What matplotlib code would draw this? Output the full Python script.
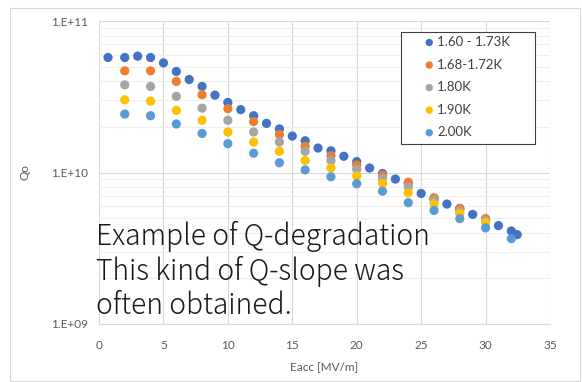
import numpy as np
import matplotlib.pyplot as plt
from matplotlib.ticker import FixedLocator, LogLocator, NullFormatter

# Eacc [MV/m] and Qo for each bath temperature
eacc_a = [0.7, 2, 3, 4, 5, 6, 7, 8, 9, 10, 11, 12, 13, 14, 15, 16, 17, 18, 19, 20,
          21, 22, 23, 24, 25, 26, 27, 28, 29, 30, 31, 32, 32.45]
q_a = [5.74e10, 5.74e10, 5.86e10, 5.74e10, 5.29e10, 4.64e10, 4.11e10, 3.70e10, 3.24e10,
       2.90e10, 2.60e10, 2.37e10, 2.11e10, 1.94e10, 1.74e10, 1.62e10, 1.45e10, 1.39e10,
       1.28e10, 1.18e10, 1.07e10, 9.85e9, 9.05e9, 8.47e9, 7.27e9, 6.71e9, 6.19e9, 5.80e9,
       5.29e9, 4.91e9, 4.46e9, 4.11e9, 3.89e9]

eacc_even = [2, 4, 6, 8, 10, 12, 14, 16, 18, 20, 22, 24, 26, 28, 30]
q_b = [4.69e10, 4.69e10, 3.99e10, 3.26e10, 2.64e10, 2.17e10, 1.78e10, 1.49e10, 1.29e10,
       1.12e10, 9.6e9, 8.63e9, 6.81e9, 5.77e9, 4.96e9]
q_c = [3.79e10, 3.70e10, 3.18e10, 2.66e10, 2.21e10, 1.85e10, 1.59e10, 1.38e10, 1.20e10,
       1.05e10, 9.13e9, 8.05e9, 6.57e9, 5.56e9, 4.83e9]
q_d = [3.02e10, 2.96e10, 2.57e10, 2.21e10, 1.85e10, 1.59e10, 1.38e10, 1.20e10, 1.07e10,
       9.5e9, 8.47e9, 7.35e9, 6.22e9, 5.37e9, 4.67e9]

eacc_e = [2, 4, 6, 8, 10, 12, 14, 16, 18, 20, 22, 24, 26, 28, 30, 32]
q_e = [2.43e10, 2.37e10, 2.09e10, 1.81e10, 1.55e10, 1.34e10, 1.16e10, 1.04e10, 9.37e9,
       8.43e9, 7.53e9, 6.32e9, 5.62e9, 4.96e9, 4.31e9, 3.66e9]

labels = ['1.60 - 1.73K', '1.68-1.72K', '1.80K', '1.90K', '2.00K']
colors = ['#4472C4', '#ED7D31', '#A5A5A5', '#FFC000', '#5B9BD5']

plt.rcParams['font.family'] = ['Lato', 'DejaVu Sans']

fig = plt.figure(figsize=(5.82, 3.82), dpi=100)
ax = fig.add_axes([99 / 582, 1 - 324 / 382, 451 / 582, 303 / 382])

series = [(eacc_a, q_a), (eacc_even, q_b), (eacc_even, q_c), (eacc_even, q_d), (eacc_e, q_e)]
for (xs, ys), lab, col in zip(series, labels, colors):
    ax.scatter(xs, ys, s=44, color=col, label=lab, edgecolors='none', zorder=3)

ax.set_yscale('log')
ax.set_xlim(0, 35)
ax.set_ylim(1e9, 1e11)
ax.set_xticks(np.arange(0, 36, 5))
ax.yaxis.set_major_locator(FixedLocator([1e9, 1e10, 1e11]))
ax.set_yticklabels(['1.E+09', '1.E+10', '1.E+11'])
ax.yaxis.set_minor_locator(LogLocator(base=10, subs=np.arange(2, 10)))
ax.yaxis.set_minor_formatter(NullFormatter())

for s in ax.spines.values():
    s.set_visible(False)
ax.spines['bottom'].set_visible(True)
ax.spines['bottom'].set_color('#D9D9D9')
ax.grid(True, which='major', color='#D9D9D9', lw=0.8, zorder=0)
ax.grid(True, which='minor', axis='y', color='#EFEFEF', lw=0.8, zorder=0)
ax.set_axisbelow(True)
ax.tick_params(which='both', length=0, labelsize=8.5, labelcolor='#595959')
ax.tick_params(axis='x', pad=11.5)
ax.tick_params(axis='y', pad=8)

ax.set_xlabel('Eacc [MV/m]', fontsize=8.5, color='#595959', labelpad=7)
ax.set_ylabel('Qo', fontsize=8.5, color='#595959', labelpad=15)

# legend box drawn by hand so the padding can match
ax.add_patch(plt.Rectangle((401 / 582, 1 - 144 / 382), 134 / 582, 112 / 382,
                           transform=fig.transFigure, clip_on=False, facecolor='white',
                           edgecolor='#404040', lw=0.8, zorder=4))
leg = ax.legend(loc='upper left', bbox_to_anchor=(420 / 582, 1 - 32 / 382),
                bbox_transform=fig.transFigure, frameon=False,
                fontsize=9.5, handlelength=0.8, handletextpad=0.2, labelspacing=0.8,
                borderpad=0.3, markerscale=0.8, borderaxespad=0)
leg.set_zorder(5)
for t in leg.get_texts():
    t.set_color('#404040')

fig.text(96 / 582, 1 - 221 / 382,
         'Example of Q-degradation\nThis kind of Q-slope was\noften obtained.',
         fontsize=20.3, color='#1A1A1A', ha='left', va='top',
         family=['Noto Sans CJK JP', 'DejaVu Sans'], weight='light', linespacing=1.15)

fig.patches.append(plt.Rectangle((10 / 582, 0.003), 1 - 12 / 582, 1 - 8 / 382 - 0.003,
                                 transform=fig.transFigure, fill=False,
                                 edgecolor='#D9D9D9', lw=0.8))

fig.savefig('out.png', dpi=100)
